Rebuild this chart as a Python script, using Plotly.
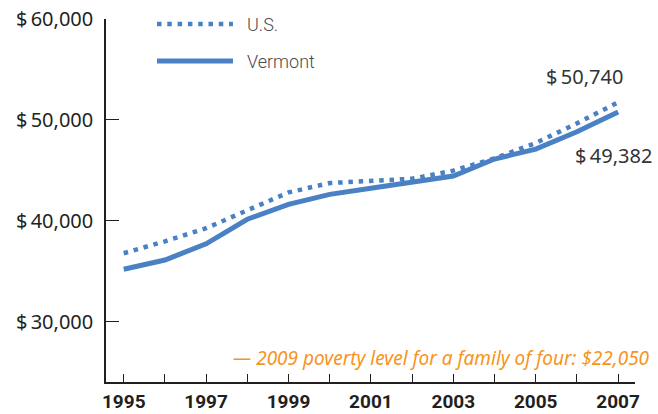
import plotly.graph_objects as go

years = list(range(1995, 2008))
us_income = [36770, 37950, 39250, 40990, 42800, 43730, 44000, 44160, 44960, 46180, 47700, 49650, 51740]
vt_income = [35180, 36100, 37700, 40140, 41620, 42610, 43210, 43860, 44430, 46110, 47100, 48820, 50780]
series_names = ["U.S.", "Vermont"]
end_labels = ["$\u200950,740", "$\u200949,382"]
y_tickvals = [30000, 40000, 50000, 60000]
y_ticktext = ["$\u200930,000", "$\u200940,000", "$\u200950,000", "$\u200960,000"]
x_tickvals = list(range(1995, 2008, 2))
note_text = "\u2014 2009 poverty level for a family of four: $22,050"

BLUE = "#4a80c4"
DARK = "#231f20"
SANS = "Noto Sans, sans-serif"

fig = go.Figure()
fig.add_trace(go.Scatter(x=years, y=us_income, mode="lines", name=series_names[0],
                         line=dict(color=BLUE, width=4.5, dash="4.5px,5.8px")))
fig.add_trace(go.Scatter(x=years, y=vt_income, mode="lines", name=series_names[1],
                         line=dict(color=BLUE, width=5)))

# legend samples
fig.add_shape(type="line", xref="paper", yref="paper", x0=0.0964, x1=0.240, y0=0.986, y1=0.986,
              line=dict(color=BLUE, width=4.5, dash="4.5px,5.8px"))
fig.add_shape(type="line", xref="paper", yref="paper", x0=0.0964, x1=0.240, y0=0.884, y1=0.884,
              line=dict(color=BLUE, width=5))
for name, yy in zip(series_names, [0.986, 0.884]):
    fig.add_annotation(xref="paper", yref="paper", x=0.263, y=yy, text=name, showarrow=False,
                       xanchor="left", yanchor="middle",
                       font=dict(family="Roboto", weight=300, size=18, color="#4a4a4a"))

fig.add_annotation(xref="paper", yref="paper", x=0.9036, y=0.841, text=end_labels[0],
                   showarrow=False, xanchor="center", yanchor="middle",
                   font=dict(family=SANS, size=20, color="#333333"))
fig.add_annotation(xref="paper", yref="paper", x=0.960, y=0.625, text=end_labels[1],
                   showarrow=False, xanchor="center", yanchor="middle",
                   font=dict(family=SANS, size=20, color="#333333"))
fig.add_annotation(xref="paper", yref="paper", x=1.032, y=0.066, text="<i>" + note_text + "</i>",
                   showarrow=False, xanchor="right", yanchor="middle",
                   font=dict(family=SANS, size=19, color="#f7941d"))

fig.update_layout(
    width=658, height=414,
    margin=dict(l=106, r=23, t=19, b=32, autoexpand=False),
    paper_bgcolor="white", plot_bgcolor="white",
    showlegend=False,
    xaxis=dict(range=[1994.57, 2007.41], tickmode="array", tickvals=years,
               ticktext=[str(y) if y in x_tickvals else "" for y in years],
               ticks="inside", ticklen=8, tickwidth=1.3, tickcolor=DARK, automargin=False,
               showline=True, linecolor=DARK, linewidth=1.5, showgrid=False, zeroline=False,
               tickfont=dict(family="Roboto", weight="bold", size=19, color="#231f20"),
               ticklabelstandoff=1),
    yaxis=dict(range=[24000, 60000], tickmode="array", tickvals=y_tickvals, ticktext=y_ticktext,
               ticks="inside", ticklen=13, tickwidth=1.3, tickcolor=DARK, automargin=False,
               showline=True, linecolor=DARK, linewidth=1.5, showgrid=False, zeroline=False,
               tickfont=dict(family=SANS, size=20, color="#231f20"),
               ticklabelstandoff=7),
)
fig.write_html("out.html", config={"displayModeBar": False},
               post_script="document.body.style.margin='0';")
